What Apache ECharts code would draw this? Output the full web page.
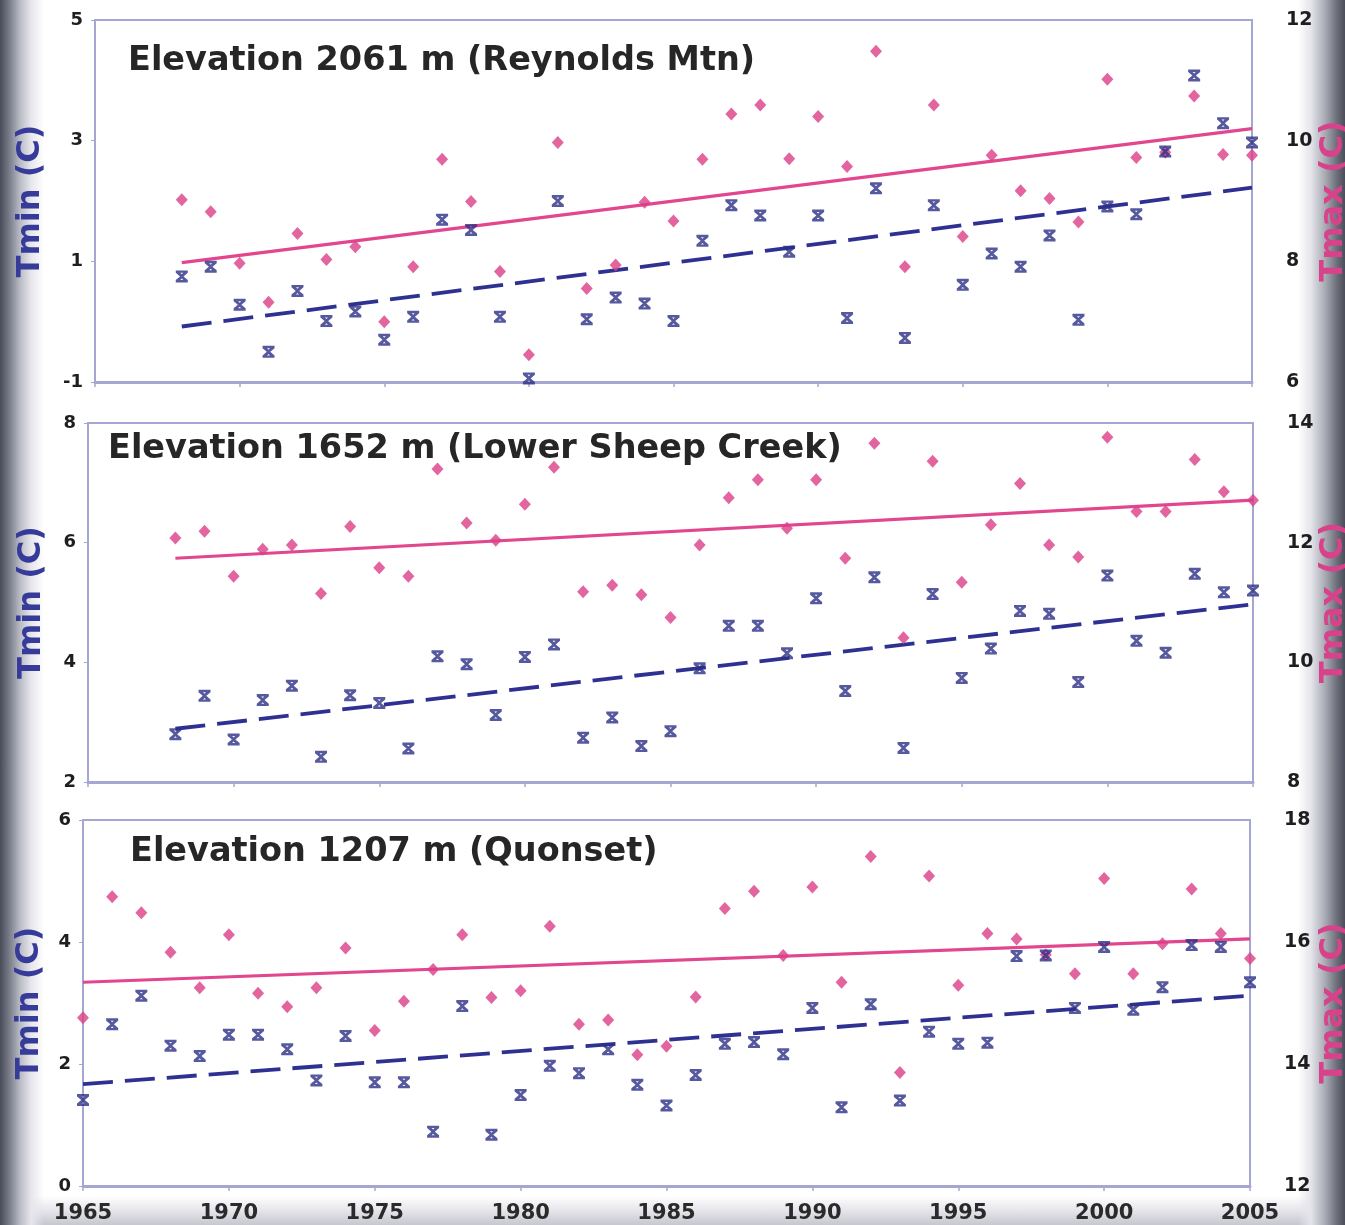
<!DOCTYPE html>
<html>
<head>
<meta charset="utf-8">
<script src="https://cdn.jsdelivr.net/npm/echarts@6/dist/echarts.min.js"></script>
<style>
  html, body { margin: 0; padding: 0; background: #fff; overflow: hidden; }
  #wrap {
    position: relative; width: 1345px; height: 1225px; overflow: hidden;
    background:
      linear-gradient(to right, #474a57 0px, #7d808c 10px, #b9bbc4 20px, #e6e6ec 31px, rgba(255,255,255,0) 44px,
                      rgba(255,255,255,0) 1298px, #e4e4ea 1311px, #a9abb4 1325px, #6b6e79 1337px, #4b4e5a 1345px),
      linear-gradient(to bottom, #fff 0px, #fff 1196px, #e4e4ea 1211px, #c6c7cf 1225px);
  }
  #chart { position: absolute; left: 0; top: 0; width: 1345px; height: 1225px; }
</style>
</head>
<body>
<div id="wrap"><div id="chart"></div></div>
<script>
// Years of record
const yearsShort = [1968, 1969, 1970, 1971, 1972, 1973, 1974, 1975, 1976, 1977, 1978, 1979, 1980,
  1981, 1982, 1983, 1984, 1985, 1986, 1987, 1988, 1989, 1990, 1991, 1992, 1993, 1994, 1995, 1996,
  1997, 1998, 1999, 2000, 2001, 2002, 2003, 2004, 2005];
const yearsLong = [1965, 1966, 1967, 1968, 1969, 1970, 1971, 1972, 1973, 1974, 1975, 1976, 1977,
  1978, 1979, 1980, 1981, 1982, 1983, 1984, 1985, 1986, 1987, 1988, 1989, 1990, 1991, 1992, 1993,
  1994, 1995, 1996, 1997, 1998, 1999, 2000, 2001, 2002, 2003, 2004, 2005];

// Reynolds Mtn, 2061 m (annual mean daily min / max, deg C)
const tminReynolds = [0.75, 0.91, 0.28, -0.50, 0.51, 0.01, 0.17, -0.30, 0.08, 1.69, 1.52, 0.08, -0.94,
  2.00, 0.04, 0.40, 0.30, 0.01, 1.34, 1.93, 1.76, 1.16, 1.76, 0.06, 2.21, -0.27, 1.93, 0.61, 1.13,
  0.91, 1.43, 0.03, 1.91, 1.78, 2.82, 4.08, 3.29, 2.97];
const tmaxReynolds = [9.02, 8.82, 7.97, 7.32, 8.46, 8.03, 8.24, 7.00, 7.91, 9.69, 8.99, 7.83, 6.45,
  9.97, 7.55, 7.94, 8.98, 8.67, 9.69, 10.44, 10.59, 9.70, 10.40, 9.57, 11.48, 7.91, 10.59, 8.41, 9.76,
  9.17, 9.04, 8.65, 11.02, 9.72, 9.81, 10.74, 9.77, 9.76];

// Lower Sheep Creek, 1652 m
const tminSheep = [2.80, 3.44, 2.71, 3.37, 3.61, 2.42, 3.45, 3.32, 2.56, 4.10, 3.97, 3.12, 4.09,
  4.30, 2.74, 3.08, 2.60, 2.85, 3.90, 4.61, 4.61, 4.15, 5.07, 3.52, 5.42, 2.57, 5.14, 3.74, 4.23,
  4.86, 4.81, 3.67, 5.45, 4.36, 4.16, 5.48, 5.17, 5.20];
const tmaxSheep = [12.08, 12.19, 11.44, 11.89, 11.96, 11.15, 12.27, 11.58, 11.44, 13.23, 12.33, 12.04, 12.64,
  13.26, 11.18, 11.29, 11.13, 10.75, 11.96, 12.75, 13.05, 12.24, 13.05, 11.74, 13.66, 10.41, 13.36, 11.34, 12.30,
  12.99, 11.96, 11.76, 13.76, 12.52, 12.52, 13.39, 12.85, 12.71];

// Quonset, 1207 m
const tminQuonset = [1.41, 2.65, 3.12, 2.30, 2.13, 2.48, 2.48, 2.24, 1.73, 2.46, 1.70, 1.70, 0.89,
  2.95, 0.84, 1.49, 1.97, 1.85, 2.24, 1.66, 1.32, 1.82, 2.33, 2.36, 2.16, 2.92, 1.29, 2.98, 1.40,
  2.53, 2.33, 2.35, 3.77, 3.78, 2.92, 3.92, 2.89, 3.26, 3.95, 3.92, 3.34];
const tmaxQuonset = [14.76, 16.74, 16.48, 15.83, 15.25, 16.12, 15.16, 14.94, 15.25, 15.90, 14.55, 15.03, 15.55,
  16.12, 15.09, 15.20, 16.26, 14.65, 14.72, 14.15, 14.29, 15.10, 16.55, 16.83, 15.78, 16.90, 15.34, 17.40, 13.86,
  17.08, 15.29, 16.14, 16.05, 15.79, 15.48, 17.04, 15.48, 15.97, 16.87, 16.14, 15.73];

// Linear trend end points [first year, last year]
const trendYearsShort = [1968, 2005];
const trendYearsLong = [1965, 2005];
const tminTrendReynolds = [-0.08, 2.22];
const tmaxTrendReynolds = [7.98, 10.20];
const tminTrendSheep = [2.89, 4.97];
const tmaxTrendSheep = [11.74, 12.71];
const tminTrendQuonset = [1.67, 3.12];
const tmaxTrendQuonset = [15.34, 16.05];

// Panel titles and axis ranges [min, max]
const panelTitles = ['Elevation 2061 m (Reynolds Mtn)', 'Elevation 1652 m (Lower Sheep Creek)', 'Elevation 1207 m (Quonset)'];
const tminRanges = [[-1, 5], [2, 8], [0, 6]];
const tmaxRanges = [[6, 12], [8, 14], [12, 18]];
const yearRange = [1965, 2005];

const PINK = '#dc3f88';
const PINK_LINE = '#e2468e';
const NAVY = '#2c2f86';
const NAVY_LINE = '#2e3192';
const FRAME = '#a6a6d2';
const FONT = '"DejaVu Sans", "Liberation Sans", Arial, sans-serif';

// Tmin marker: a heavy "x" closed by flat top and bottom bars (two small holes keep the arms readable)
const xMark = 'path://M0 0H13V2.4L8.4 6L13 9.6V12H0V9.6L4.6 6L0 2.4Z' +
  'M4.9 2.4L6.5 3.9L8.1 2.4Z' +
  'M4.9 9.6L8.1 9.6L6.5 8.1Z';

const zip = (xs, ys) => xs.map((x, i) => [x, ys[i]]);

const panels = [
  { grid: { left: 95, right: 93, top: 20, height: 362 }, years: yearsShort, tmin: tminReynolds, tmax: tmaxReynolds,
    trendYears: trendYearsShort, tminTrend: tminTrendReynolds, tmaxTrend: tmaxTrendReynolds,
    titlePos: { left: 128, top: 44 }, leftGap: 48, rightGap: 66, showYears: false },
  { grid: { left: 88, right: 92, top: 423, height: 359 }, years: yearsShort, tmin: tminSheep, tmax: tmaxSheep,
    trendYears: trendYearsShort, tminTrend: tminTrendSheep, tmaxTrend: tmaxTrendSheep,
    titlePos: { left: 108, top: 432 }, leftGap: 40, rightGap: 65, showYears: false },
  { grid: { left: 83, right: 95, top: 820, height: 366 }, years: yearsLong, tmin: tminQuonset, tmax: tmaxQuonset,
    trendYears: trendYearsLong, tminTrend: tminTrendQuonset, tmaxTrend: tmaxTrendQuonset,
    titlePos: { left: 130, top: 835 }, leftGap: 37, rightGap: 68, showYears: true }
];

const option = {
  animation: false,
  backgroundColor: 'transparent',
  title: [], grid: [], xAxis: [], yAxis: [], series: []
};

panels.forEach((p, i) => {
  option.title.push({
    text: panelTitles[i], left: p.titlePos.left, top: p.titlePos.top, padding: 0,
    textStyle: { fontFamily: FONT, fontWeight: 'bold', fontSize: 33.5, color: '#262626' }
  });
  option.grid.push(Object.assign({
    show: true, borderColor: FRAME, borderWidth: 2, backgroundColor: 'transparent',
    containLabel: false, outerBoundsMode: 'none'
  }, p.grid));
  option.xAxis.push({
    type: 'value', gridIndex: i, min: yearRange[0], max: yearRange[1], interval: 5,
    axisLine: { show: true, onZero: false, lineStyle: { color: FRAME, width: 3 } },
    axisTick: { show: true, length: 5, lineStyle: { color: FRAME, width: 1.5 } },
    splitLine: { show: false },
    axisLabel: { show: p.showYears, margin: 17, color: '#2a2a2a', fontFamily: FONT, fontWeight: 'bold', fontSize: 21,
      formatter: v => String(v) }
  });
  const yLabel = { color: '#1e1e1e', fontFamily: FONT, fontWeight: 'bold', fontSize: 18 };
  option.yAxis.push({
    type: 'value', gridIndex: i, position: 'left', min: tminRanges[i][0], max: tminRanges[i][1], interval: 2,
    name: 'Tmin (C)', nameLocation: 'middle', nameRotate: 90, nameGap: p.leftGap, nameMoveOverlap: false,
    nameTextStyle: { color: '#363b99', fontFamily: FONT, fontWeight: 'bold', fontSize: 32 },
    axisLine: { show: true, onZero: false, lineStyle: { color: FRAME, width: 2 } },
    axisTick: { show: true, length: 4, lineStyle: { color: FRAME } },
    splitLine: { show: false },
    axisLabel: Object.assign({ margin: 12 }, yLabel)
  });
  option.yAxis.push({
    type: 'value', gridIndex: i, position: 'right', min: tmaxRanges[i][0], max: tmaxRanges[i][1], interval: 2,
    name: 'Tmax (C)', nameLocation: 'middle', nameRotate: 90, nameGap: p.rightGap, nameMoveOverlap: false,
    nameTextStyle: { color: '#d8428a', fontFamily: FONT, fontWeight: 'bold', fontSize: 32 },
    axisLine: { show: true, onZero: false, lineStyle: { color: FRAME, width: 2 } },
    axisTick: { show: false },
    splitLine: { show: false },
    axisLabel: Object.assign({ margin: 34 }, yLabel, { fontSize: 19 })
  });
  const yl = i * 2, yr = i * 2 + 1;
  option.series.push({
    type: 'line', xAxisIndex: i, yAxisIndex: yr, data: zip(p.trendYears, p.tmaxTrend),
    symbol: 'none', lineStyle: { color: PINK_LINE, width: 3.2 }, z: 2, silent: true
  });
  option.series.push({
    type: 'line', xAxisIndex: i, yAxisIndex: yl, data: zip(p.trendYears, p.tminTrend),
    symbol: 'none', lineStyle: { color: NAVY_LINE, width: 3.8, type: [30, 12] }, z: 2, silent: true
  });
  option.series.push({
    type: 'scatter', xAxisIndex: i, yAxisIndex: yr, data: zip(p.years, p.tmax),
    symbol: 'diamond', symbolSize: [12, 13], itemStyle: { color: PINK }, z: 3
  });
  option.series.push({
    type: 'scatter', xAxisIndex: i, yAxisIndex: yl, data: zip(p.years, p.tmin),
    symbol: xMark, symbolSize: [12, 12], itemStyle: { color: NAVY }, z: 4
  });
});

const chart = echarts.init(document.getElementById('chart'), null, { renderer: 'canvas' });
chart.setOption(option);
</script>
</body>
</html>
